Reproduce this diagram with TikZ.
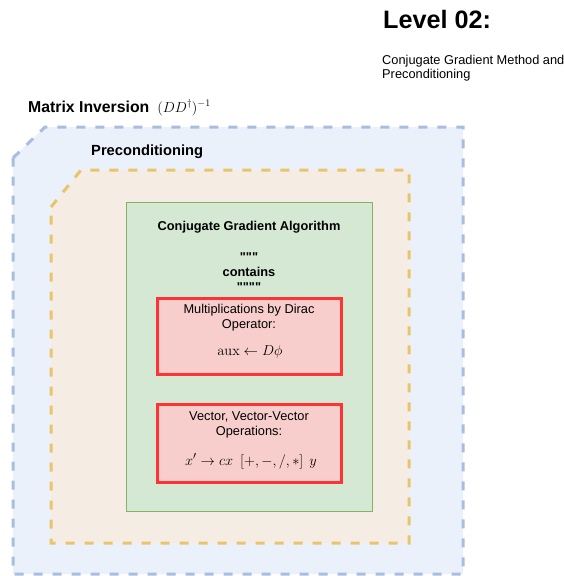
\documentclass[tikz,border=0pt]{standalone}
\usepackage[no-math]{fontspec}
\setmainfont{Liberation Sans}
\newfontfamily\rawfont{Liberation Sans}[Ligatures=TeXOff]
\definecolor{outerfill}{HTML}{EBF1FB}
\definecolor{outerline}{HTML}{A9BEDE}
\definecolor{precfill}{HTML}{F5ECE3}
\definecolor{precline}{HTML}{E8C56C}
\definecolor{cgfill}{HTML}{D5E8D4}
\definecolor{cgline}{HTML}{82B366}
\definecolor{opfill}{HTML}{F8CECC}
\definecolor{opline}{HTML}{FF3333}
\tikzset{
  zoneline/.style={line width=3pt, dash pattern=on 9pt off 10pt},
  outerzone/.style={zoneline, draw=outerline, fill=outerfill},
  preczone/.style={zoneline, draw=precline, fill=precfill},
  cgbox/.style={draw=cgline, fill=cgfill, line width=1pt, inner sep=0pt},
  opbox/.style={draw=opline, fill=opfill, line width=3pt, inner sep=0pt,
    minimum width=184pt},
  txt/.style={inner sep=0pt, anchor=base},
  big/.style={font=\fontsize{25.2}{29}\selectfont\bfseries},
  head/.style={font=\fontsize{14.7}{17}\selectfont\bfseries},
  bold/.style={font=\fontsize{12.8}{15}\selectfont\bfseries},
  ticks/.style={font=\rawfont\fontsize{12.8}{15}\selectfont\bfseries},
  plain/.style={font=\fontsize{12.8}{15}\selectfont},
  formula/.style={font=\fontsize{15.4}{18}\selectfont},
}
\begin{document}
\begin{tikzpicture}[x=1pt, y=-1pt]
\useasboundingbox (0,0) rectangle (564,576);
\fill[white] (0,0) rectangle (564,576);

% nested containers with a cut top-left corner
\draw[outerzone] (13,158) -- (45,127) -- (463,127) -- (463,574) -- (13,574) -- cycle;
\draw[preczone] (51,207) -- (81,170) -- (409,170) -- (409,543) -- (51,543) -- cycle;

% algorithm box and its two operation boxes
\node[cgbox, minimum width=246pt, minimum height=309pt] (cg) at (249,356.5) {};
\node[opbox, minimum height=76pt] (dirac) at (249,336) {};
\node[opbox, minimum height=78pt] (vec) at (249,443) {};

% headings
\node[txt, anchor=base west, big] (level) at (383,28) {Level 02:};
\node[txt, anchor=base west, plain] (desc1) at (382,64) {Conjugate Gradient Method and};
\node[txt, anchor=base west, plain] (desc2) at (382,78) {Preconditioning};

\node[txt, anchor=base west, font=\fontsize{15.8}{18}\selectfont\bfseries] (mi) at (28,112)
  {Matrix Inversion\hspace{8pt}\mdseries\fontsize{14.8}{18}\selectfont$(DD^\dagger)^{-1}$};
\node[txt, anchor=base west, head] (pc) at (91,155) {Preconditioning};

% contents of the algorithm box
\node[txt, bold] (cgt) at (249,230.5) {Conjugate Gradient Algorithm};
\node[txt, ticks] (q1) at (249,261) {"""};
\node[txt, bold] (ct) at (249,276) {contains};
\node[txt, ticks] (q2) at (249,291) {""""};

\node[txt, plain] (d1) at (249,313) {Multiplications by Dirac};
\node[txt, plain] (d2) at (249,328) {Operator:};
\node[txt, formula] (d3) at (250,355.5) {$\mathrm{aux} \leftarrow D\phi$};

\node[txt, plain] (v1) at (249,420) {Vector, Vector-Vector};
\node[txt, plain] (v2) at (249,435) {Operations:};
\node[txt, formula] (v3) at (251,465) {$x' \rightarrow cx\hspace{7pt}[+,-,/,*]\hspace{6pt}y$};
\end{tikzpicture}
\end{document}
